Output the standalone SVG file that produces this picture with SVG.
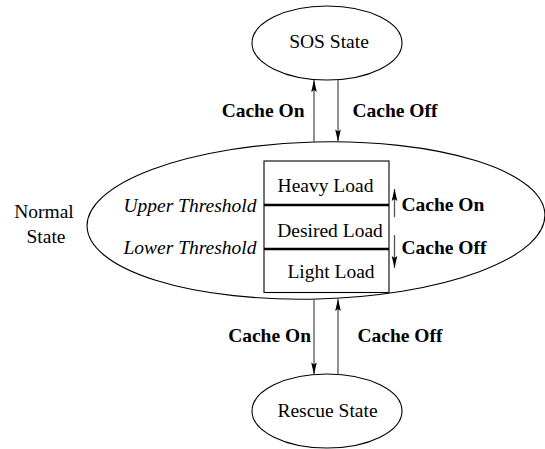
<svg xmlns="http://www.w3.org/2000/svg" width="545" height="449" viewBox="0 0 545 449" font-family="'Liberation Serif', 'DejaVu Serif', serif">
  <style>
    text { font-family: "Liberation Serif", "DejaVu Serif", serif; font-size: 19.5px; fill: #000; }
    .b { font-weight: bold; }
    .i { font-style: italic; }
    .m { text-anchor: middle; }
    .e { text-anchor: end; }
    .shape { fill: none; stroke: #000; stroke-width: 1.1; }
    .thr { stroke: #000; stroke-width: 2.6; }
    .arr { stroke: #555; stroke-width: 1.3; fill: none; marker-end: url(#head); }
  </style>
  <defs>
    <marker id="head" markerUnits="userSpaceOnUse" viewBox="-13 -4 14 8" refX="0" refY="0" markerWidth="14" markerHeight="8" orient="auto">
      <path d="M0,0 L-12,-2.8 L-10,0 L-12,2.8 Z" fill="#000"/>
    </marker>
  </defs>

  <!-- SOS state -->
  <g id="sos">
    <ellipse class="shape" cx="327" cy="43" rx="75" ry="37"/>
    <text class="m" x="329" y="48">SOS State</text>
  </g>

  <!-- Normal state with load bands -->
  <g id="normal">
    <ellipse class="shape" cx="316" cy="220.5" rx="229" ry="78.5" transform="rotate(-1.5 316 220.5)"/>
    <text class="m" x="44" y="218">Normal</text>
    <text class="m" x="46" y="243">State</text>
  </g>

  <g id="loads">
    <rect class="shape" x="264" y="161" width="125" height="131.5"/>
    <line class="thr" x1="264" y1="205" x2="389" y2="205"/>
    <line class="thr" x1="264" y1="249" x2="389" y2="249"/>
    <text class="m" x="325.5" y="192">Heavy Load</text>
    <text class="m" x="330" y="236.5">Desired Load</text>
    <text class="m" x="331" y="278">Light Load</text>
    <text class="i e" x="256.5" y="212">Upper Threshold</text>
    <text class="i e" x="256.5" y="254">Lower Threshold</text>
  </g>

  <!-- Rescue state -->
  <g id="rescue">
    <ellipse class="shape" cx="327" cy="411" rx="75" ry="37"/>
    <text class="m" x="327.5" y="416.5">Rescue State</text>
  </g>

  <!-- Transitions -->
  <g id="connectors">
    <line class="arr" x1="314" y1="142.5" x2="314" y2="80"/>
    <line class="arr" x1="338" y1="80" x2="338" y2="141.5"/>
    <line class="arr" x1="314" y1="299" x2="314" y2="374.5"/>
    <line class="arr" x1="338" y1="374.5" x2="338" y2="299"/>
    <line class="arr" x1="394.5" y1="217" x2="394.5" y2="189"/>
    <line class="arr" x1="394.5" y1="235" x2="394.5" y2="268"/>
  </g>

  <g id="labels">
    <text class="b e" x="304.5" y="117">Cache On</text>
    <text class="b" x="352.5" y="117">Cache Off</text>
    <text class="b e" x="311" y="342">Cache On</text>
    <text class="b" x="357.5" y="342">Cache Off</text>
    <text class="b" x="401.5" y="211">Cache On</text>
    <text class="b" x="401.5" y="254">Cache Off</text>
  </g>
</svg>
